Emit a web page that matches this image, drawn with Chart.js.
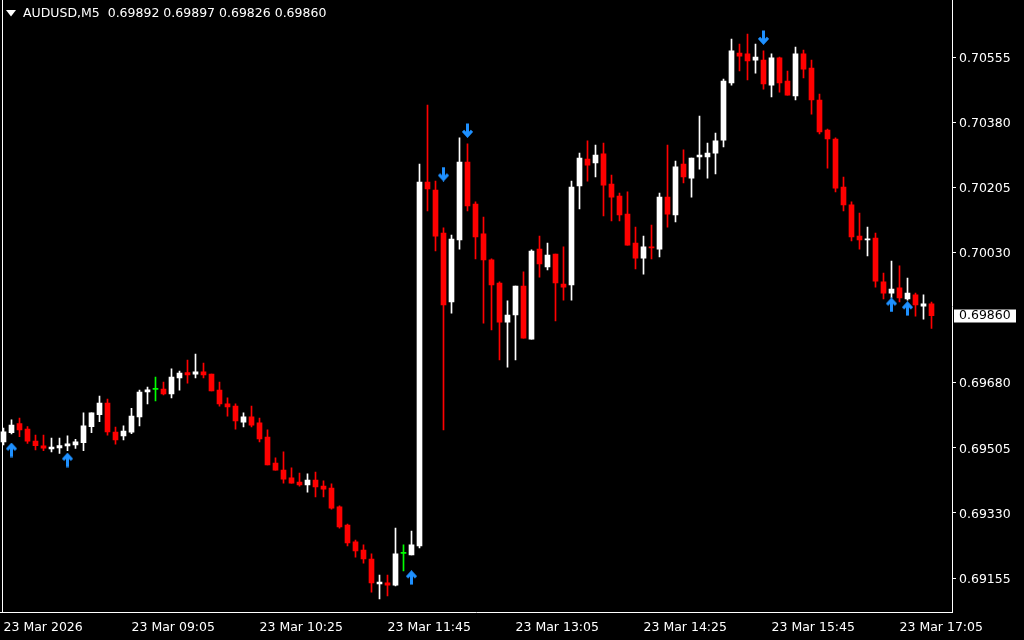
<!DOCTYPE html>
<html>
<head>
<meta charset="utf-8">
<title>AUDUSD,M5</title>
<script src="https://cdn.jsdelivr.net/npm/chart.js@4.4.1/dist/chart.umd.min.js"></script>
<style>
  html, body { margin: 0; padding: 0; background: #000; }
  #wrap { width: 1024px; height: 640px; }
</style>
</head>
<body>
<div id="wrap"><canvas id="chart"></canvas></div>
<script>
// ===== data (5 minute bars from 07:45) =====
const symbol = "AUDUSD,M5";

const open = [
  0.69521, 0.69546, 0.69570, 0.69555, 0.69523, 0.69510, 0.69502, 0.69505, 0.69510, 0.69513,
  0.69519, 0.69562, 0.69594, 0.69625, 0.69547, 0.69537, 0.69547, 0.69588, 0.69655, 0.69662,
  0.69663, 0.69650, 0.69693, 0.69707, 0.69703, 0.69709, 0.69703, 0.69660, 0.69623, 0.69617,
  0.69574, 0.69588, 0.69572, 0.69534, 0.69464, 0.69445, 0.69424, 0.69413, 0.69405, 0.69418,
  0.69402, 0.69397, 0.69346, 0.69297, 0.69252, 0.69230, 0.69206, 0.69139, 0.69142, 0.69136,
  0.69221, 0.69217, 0.69241, 0.70219, 0.70198, 0.70082, 0.69897, 0.70064, 0.70273, 0.70160,
  0.70080, 0.70010, 0.69948, 0.69843, 0.69862, 0.69940, 0.69797, 0.70039, 0.69991, 0.70026,
  0.69945, 0.69943, 0.70209, 0.70281, 0.70271, 0.70295, 0.70214, 0.70182, 0.70133, 0.70055,
  0.70015, 0.70045, 0.70039, 0.70179, 0.70131, 0.70268, 0.70230, 0.70287, 0.70287, 0.70297,
  0.70332, 0.70486, 0.70566, 0.70564, 0.70547, 0.70547, 0.70480, 0.70553, 0.70491, 0.70451,
  0.70564, 0.70526, 0.70440, 0.70359, 0.70335, 0.70206, 0.70158, 0.70074, 0.70064, 0.70069,
  0.69951, 0.69921, 0.69935, 0.69905, 0.69916, 0.69886, 0.69892
];
const high = [
  0.69558, 0.69580, 0.69585, 0.69562, 0.69539, 0.69539, 0.69531, 0.69531, 0.69537, 0.69528,
  0.69599, 0.69599, 0.69644, 0.69636, 0.69561, 0.69564, 0.69611, 0.69660, 0.69668, 0.69695,
  0.69682, 0.69717, 0.69711, 0.69741, 0.69757, 0.69733, 0.69703, 0.69682, 0.69639, 0.69623,
  0.69599, 0.69617, 0.69585, 0.69553, 0.69478, 0.69494, 0.69451, 0.69437, 0.69435, 0.69440,
  0.69416, 0.69408, 0.69349, 0.69300, 0.69257, 0.69244, 0.69220, 0.69163, 0.69163, 0.69289,
  0.69244, 0.69281, 0.70268, 0.70426, 0.70222, 0.70096, 0.70077, 0.70338, 0.70322, 0.70166,
  0.70125, 0.70013, 0.69951, 0.69900, 0.69940, 0.69978, 0.70037, 0.70074, 0.70055, 0.70026,
  0.70045, 0.70222, 0.70297, 0.70330, 0.70319, 0.70324, 0.70238, 0.70190, 0.70193, 0.70098,
  0.70074, 0.70104, 0.70190, 0.70319, 0.70276, 0.70306, 0.70284, 0.70397, 0.70324, 0.70351,
  0.70496, 0.70604, 0.70590, 0.70617, 0.70590, 0.70572, 0.70564, 0.70555, 0.70518, 0.70582,
  0.70574, 0.70547, 0.70456, 0.70362, 0.70338, 0.70233, 0.70166, 0.70136, 0.70098, 0.70082,
  0.69975, 0.70007, 0.69994, 0.69961, 0.69921, 0.69916, 0.69897
];
const low = [
  0.69513, 0.69542, 0.69535, 0.69517, 0.69499, 0.69497, 0.69494, 0.69490, 0.69497, 0.69503,
  0.69497, 0.69546, 0.69575, 0.69539, 0.69515, 0.69526, 0.69543, 0.69564, 0.69623, 0.69631,
  0.69647, 0.69639, 0.69660, 0.69679, 0.69693, 0.69693, 0.69658, 0.69617, 0.69590, 0.69555,
  0.69561, 0.69561, 0.69521, 0.69459, 0.69445, 0.69410, 0.69410, 0.69402, 0.69386, 0.69373,
  0.69373, 0.69340, 0.69289, 0.69241, 0.69211, 0.69195, 0.69117, 0.69099, 0.69107, 0.69134,
  0.69174, 0.69217, 0.69236, 0.70142, 0.70034, 0.69553, 0.69867, 0.70039, 0.70142, 0.70013,
  0.69840, 0.69822, 0.69741, 0.69722, 0.69741, 0.69800, 0.69797, 0.69964, 0.69983, 0.69846,
  0.69902, 0.69902, 0.70147, 0.70222, 0.70233, 0.70128, 0.70115, 0.70115, 0.70050, 0.69986,
  0.69972, 0.70013, 0.70018, 0.70098, 0.70112, 0.70217, 0.70179, 0.70254, 0.70230, 0.70241,
  0.70314, 0.70480, 0.70518, 0.70494, 0.70512, 0.70469, 0.70448, 0.70461, 0.70453, 0.70440,
  0.70499, 0.70402, 0.70349, 0.70257, 0.70193, 0.70142, 0.70061, 0.70039, 0.70021, 0.69937,
  0.69905, 0.69908, 0.69897, 0.69902, 0.69859, 0.69851, 0.69826
];
const close = [
  0.69548, 0.69566, 0.69553, 0.69523, 0.69511, 0.69504, 0.69507, 0.69511, 0.69516, 0.69521,
  0.69564, 0.69599, 0.69625, 0.69548, 0.69526, 0.69550, 0.69590, 0.69655, 0.69661, 0.69662,
  0.69650, 0.69695, 0.69706, 0.69701, 0.69709, 0.69701, 0.69658, 0.69623, 0.69615, 0.69577,
  0.69588, 0.69566, 0.69529, 0.69459, 0.69445, 0.69421, 0.69410, 0.69405, 0.69418, 0.69400,
  0.69394, 0.69343, 0.69292, 0.69249, 0.69228, 0.69206, 0.69142, 0.69144, 0.69136, 0.69220,
  0.69221, 0.69244, 0.70219, 0.70201, 0.70074, 0.69889, 0.70066, 0.70273, 0.70155, 0.70072,
  0.70010, 0.69943, 0.69843, 0.69862, 0.69940, 0.69800, 0.70034, 0.69999, 0.70023, 0.69948,
  0.69937, 0.70206, 0.70284, 0.70265, 0.70292, 0.70211, 0.70179, 0.70131, 0.70050, 0.70015,
  0.70045, 0.70042, 0.70179, 0.70133, 0.70260, 0.70233, 0.70284, 0.70292, 0.70297, 0.70330,
  0.70491, 0.70572, 0.70558, 0.70545, 0.70555, 0.70483, 0.70553, 0.70486, 0.70453, 0.70564,
  0.70523, 0.70440, 0.70354, 0.70335, 0.70203, 0.70158, 0.70072, 0.70064, 0.70066, 0.69953,
  0.69921, 0.69932, 0.69908, 0.69921, 0.69889, 0.69892, 0.69860
];

// time axis labels (every 16 bars)
const timeTicks = [0, 16, 32, 48, 64, 80, 96, 112];
const timeLabels = ["23 Mar 2026", "23 Mar 09:05", "23 Mar 10:25", "23 Mar 11:45",
                    "23 Mar 13:05", "23 Mar 14:25", "23 Mar 15:45", "23 Mar 17:05"];

// price axis labels
const priceTicks = [0.69155, 0.69330, 0.69505, 0.69680, 0.70030, 0.70205, 0.70380, 0.70555];

// indicator arrows
const upArrowBars = [1, 8, 51, 111, 113];
const upArrowPrice = [0.69499, 0.69472, 0.69156, 0.69889, 0.69879];
const downArrowBars = [55, 58, 95];
const downArrowPrice = [0.70241, 0.70358, 0.70608];

// ===== helpers =====
const BULL = "#ffffff", BEAR = "#ff0000", DOJI = "#00ff00", ARROW = "#1e90ff";
const last = close.length - 1;

function candleColor(i) {
  if (close[i] > open[i]) return BULL;
  if (close[i] < open[i]) return BEAR;
  return DOJI;
}

// little wingdings-like arrow used as point style
function makeArrow(up) {
  const c = document.createElement("canvas");
  c.width = 11; c.height = 15;
  const ctx = c.getContext("2d");
  if (!up) { ctx.translate(0, 15); ctx.scale(1, -1); }
  ctx.strokeStyle = ARROW;
  ctx.fillStyle = ARROW;
  ctx.lineWidth = 3.2;
  ctx.beginPath();
  ctx.moveTo(1, 7.2);
  ctx.lineTo(5.5, 2.4);
  ctx.lineTo(10, 7.2);
  ctx.stroke();
  ctx.fillRect(4, 2, 3, 12.5);
  return c;
}

// kill the label overhang padding so the plot fills the window like MT4
function noPad(s) {
  s.paddingTop = 0; s.paddingBottom = 0; s.paddingLeft = 0; s.paddingRight = 0;
}

// header text + frame + current price label
const mt4Overlay = {
  id: "mt4Overlay",
  afterDraw(chart) {
    const ctx = chart.ctx;
    const area = chart.chartArea;
    ctx.save();
    // left frame line
    ctx.fillStyle = "#fff";
    ctx.fillRect(2, 0, 1, area.bottom);

    // header
    ctx.beginPath();
    ctx.moveTo(6, 10);
    ctx.lineTo(16, 10);
    ctx.lineTo(11, 16.5);
    ctx.closePath();
    ctx.fill();
    ctx.font = "12.5px 'DejaVu Sans'";
    ctx.textBaseline = "middle";
    ctx.textAlign = "left";
    const hdr = symbol + "  " + [open[last], high[last], low[last], close[last]]
      .map((v) => v.toFixed(5)).join(" ");
    ctx.fillText(hdr, 23, 13.5);

    // current price box on the price scale
    const y = chart.scales.y.getPixelForValue(close[last]);
    ctx.fillStyle = "#fff";
    ctx.fillRect(area.right + 2, Math.round(y) - 6.5, 62, 13);
    ctx.fillStyle = "#000";
    ctx.fillText(close[last].toFixed(5), area.right + 7, y + 0.5);
    ctx.restore();
  },
};

// ===== chart =====
const ctx = document.getElementById("chart").getContext("2d");

new Chart(ctx, {
  type: "bar",
  data: {
    datasets: [
      {
        label: "up arrows",
        type: "scatter",
        data: upArrowBars.map((b, k) => ({ x: b, y: upArrowPrice[k] })),
        pointStyle: makeArrow(true),
        order: 0,
      },
      {
        label: "down arrows",
        type: "scatter",
        data: downArrowBars.map((b, k) => ({ x: b, y: downArrowPrice[k] })),
        pointStyle: makeArrow(false),
        order: 0,
      },
      {
        label: "body",
        data: open.map((o, i) => ({ x: i, y: [o, close[i]] })),
        backgroundColor: open.map((_, i) => candleColor(i)),
        barThickness: 5,
        minBarLength: 1,
        grouped: false,
        borderWidth: 0,
        borderSkipped: false,
        order: 1,
      },
      {
        label: "wick",
        data: high.map((h, i) => ({ x: i, y: [low[i], h] })),
        backgroundColor: high.map((_, i) => candleColor(i)),
        barThickness: 1,
        grouped: false,
        borderWidth: 0,
        borderSkipped: false,
        order: 2,
      },
    ],
  },
  options: {
    responsive: true,
    maintainAspectRatio: false,
    animation: false,
    layout: { padding: 0, autoPadding: false },
    plugins: {
      legend: { display: false },
      tooltip: { enabled: false },
    },
    scales: {
      x: {
        type: "linear",
        min: -0.4375,
        max: 118.5625,
        offset: false,
        afterFit: (s) => { s.height = 27.5; noPad(s); },
        afterBuildTicks: (s) => { s.ticks = timeTicks.map((v) => ({ value: v })); },
        grid: { drawOnChartArea: false, drawTicks: false },
        border: { display: true, color: "#fff" },
        ticks: {
          color: "#fff",
          font: { family: "DejaVu Sans", size: 12.5 },
          align: "start",
          autoSkip: false,
          maxRotation: 0,
          padding: 8,
          callback: (v, i) => timeLabels[i],
        },
      },
      y: {
        position: "right",
        min: 0.6906226,
        max: 0.7070876,
        afterFit: (s) => { s.width = 72; noPad(s); },
        afterBuildTicks: (s) => { s.ticks = priceTicks.map((v) => ({ value: v })); },
        grid: { drawOnChartArea: false, drawTicks: true, tickLength: 4, color: "#fff" },
        border: { display: true, color: "#fff" },
        ticks: {
          color: "#fff",
          font: { family: "DejaVu Sans", size: 12.5 },
          padding: 3,
          labelOffset: 1.5,
          callback: (v) => v.toFixed(5),
        },
      },
    },
  },
  plugins: [mt4Overlay],
});
</script>
</body>
</html>
